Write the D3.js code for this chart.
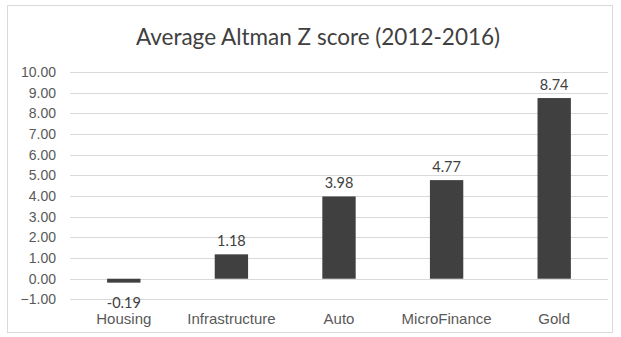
<!DOCTYPE html>
<html>
<head>
<meta charset="utf-8">
<script src="https://cdn.jsdelivr.net/npm/d3@7"></script>
<style>
  html, body { margin: 0; padding: 0; background: #fff; }
  svg { display: block; font-family: Lato, "Open Sans", sans-serif; }
</style>
</head>
<body>
<svg id="chart" width="621" height="337"></svg>
<script>
// Average Altman Z score by sector, 2012-2016
const categories = ["Housing", "Infrastructure", "Auto", "MicroFinance", "Gold"];
const scores = [-0.19, 1.18, 3.98, 4.77, 8.74];
const yTicks = [-1, 0, 1, 2, 3, 4, 5, 6, 7, 8, 9, 10];
const title = "Average Altman Z score (2012-2016)";

const svg = d3.select("#chart");
const plot = { left: 70, right: 608, top: 72, bottom: 299.4 };

// outer chart frame
svg.append("rect")
  .attr("x", 7.5).attr("y", 5.5)
  .attr("width", 605).attr("height", 327)
  .attr("fill", "#fff").attr("stroke", "#d9d9d9");

const x = d3.scaleBand()
  .domain(categories)
  .range([plot.left, plot.right])
  .paddingInner(0.69).paddingOuter(0.345);

const y = d3.scaleLinear()
  .domain([-1, 10])
  .range([plot.bottom, plot.top]);

// horizontal gridlines
svg.append("g")
  .selectAll("line")
  .data(yTicks)
  .join("line")
  .attr("x1", plot.left).attr("x2", plot.right)
  .attr("y1", d => Math.round(y(d)) + 0.5)
  .attr("y2", d => Math.round(y(d)) + 0.5)
  .attr("stroke", "#d9d9d9").attr("stroke-width", 1);

// y axis labels
const yAxis = d3.axisLeft(y).tickValues(yTicks).tickFormat(d3.format(".2f")).tickSize(0).tickPadding(0);
const ya = svg.append("g").attr("transform", `translate(56,0)`).call(yAxis);
ya.select(".domain").remove();
ya.selectAll("text")
  .attr("fill", "#595959")
  .style("font-size", "14px");

// bars
svg.append("g")
  .selectAll("rect")
  .data(categories)
  .join("rect")
  .attr("x", d => x(d))
  .attr("width", x.bandwidth())
  .attr("y", (d, i) => y(Math.max(0, scores[i])))
  .attr("height", (d, i) => Math.abs(y(scores[i]) - y(0)))
  .attr("fill", "#404040");

// value labels
svg.append("g")
  .selectAll("text")
  .data(categories)
  .join("text")
  .attr("x", d => x(d) + x.bandwidth() / 2)
  .attr("y", (d, i) => scores[i] >= 0 ? y(scores[i]) - 8 : y(scores[i]) + 25)
  .attr("text-anchor", "middle")
  .attr("fill", "#404040")
  .style("font-size", "14.5px")
  .text((d, i) => scores[i].toFixed(2));

// category labels
const xAxis = d3.axisBottom(x).tickSize(0).tickPadding(0);
const xa = svg.append("g").attr("transform", `translate(0,313)`).call(xAxis);
xa.select(".domain").remove();
xa.selectAll("text")
  .attr("fill", "#595959")
  .style("font-size", "15px");

// title
svg.append("text")
  .attr("x", 318).attr("y", 45)
  .attr("text-anchor", "middle")
  .attr("fill", "#404040")
  .style("font-size", "22.5px")
  .text(title);
</script>
</body>
</html>
